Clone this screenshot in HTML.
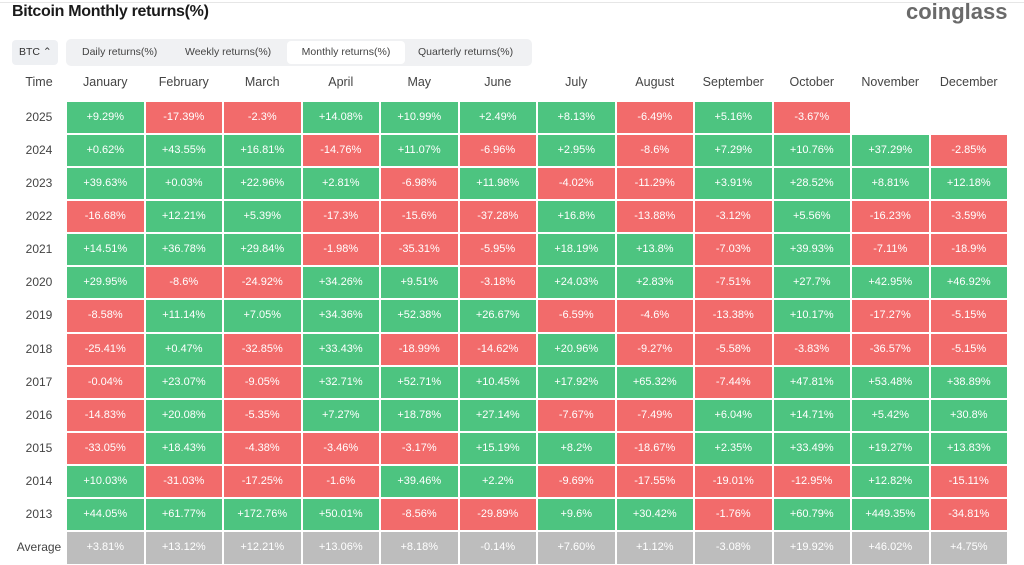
<!DOCTYPE html>
<html><head><meta charset="utf-8"><style>
*{margin:0;padding:0;box-sizing:border-box}
body{width:1024px;height:563px;overflow:hidden;background:#fff;font-family:"Liberation Sans",sans-serif;position:relative}
.topline{position:absolute;left:0;right:0;top:2px;height:1px;background:#e6e6e6}
.title{position:absolute;left:12px;top:3px;font-size:16px;font-weight:bold;color:#1a1a1a;letter-spacing:-0.3px}
.logo{position:absolute;left:906px;top:-1px;font-size:22px;font-weight:bold;color:#6a6a6a;letter-spacing:0px}
.btc{position:absolute;left:12px;top:40px;width:46px;height:25px;background:#eef0f3;border-radius:4px;font-size:10.5px;color:#333;line-height:25px;padding-left:7px}
.tabs{position:absolute;left:66px;top:39px;width:466px;height:27px;background:#f0f1f3;border-radius:5px}
.tab{position:absolute;top:0;height:27px;line-height:27px;font-size:10.5px;color:#444}
.act{background:#fff;border-radius:4px;top:2px;height:23px;line-height:23px;text-align:center}
.hdr{position:absolute;top:75px;height:16px;font-size:12.5px;color:#444;text-align:center;width:78.5px}
.row{position:absolute;left:0;height:33.15px;width:1024px}
.lab{position:absolute;left:6px;width:66px;text-align:center;line-height:33px;font-size:12px;color:#444}
.c{position:absolute;top:0;width:78.5px;height:33.15px;border:1px solid #fff;color:#fff;font-size:11px;text-align:center;line-height:31px;font-style:normal}
.g{background:#4dc480}.r{background:#f26b6b}.a{background:#bdbdbd}
.c:nth-of-type(1){left:66px}.c:nth-of-type(2){left:144.5px}.c:nth-of-type(3){left:223px}.c:nth-of-type(4){left:301.5px}
.c:nth-of-type(5){left:380px}.c:nth-of-type(6){left:458.5px}.c:nth-of-type(7){left:537px}.c:nth-of-type(8){left:615.5px}
.c:nth-of-type(9){left:694px}.c:nth-of-type(10){left:772.5px}.c:nth-of-type(11){left:851px}.c:nth-of-type(12){left:929.5px}
</style></head><body>
<div class="topline"></div>
<div class="title">Bitcoin Monthly returns(%)</div>
<div class="logo">coinglass</div>
<div class="btc">BTC ⌃</div>
<div class="tabs">
<div class="tab" style="left:16px">Daily returns(%)</div>
<div class="tab" style="left:119px">Weekly returns(%)</div>
<div class="tab act" style="left:221px;width:118px">Monthly returns(%)</div>
<div class="tab" style="left:352px">Quarterly returns(%)</div>
</div>
<div class="hdr" style="left:0px;width:78px">Time</div>
<div class="hdr" style="left:66px">January</div>
<div class="hdr" style="left:144.5px">February</div>
<div class="hdr" style="left:223px">March</div>
<div class="hdr" style="left:301.5px">April</div>
<div class="hdr" style="left:380px">May</div>
<div class="hdr" style="left:458.5px">June</div>
<div class="hdr" style="left:537px">July</div>
<div class="hdr" style="left:615.5px">August</div>
<div class="hdr" style="left:694px">September</div>
<div class="hdr" style="left:772.5px">October</div>
<div class="hdr" style="left:851px">November</div>
<div class="hdr" style="left:929.5px">December</div>

<div class="row" style="top:100.5px"><div class="lab">2025</div><i class="c g">+9.29%</i><i class="c r">-17.39%</i><i class="c r">-2.3%</i><i class="c g">+14.08%</i><i class="c g">+10.99%</i><i class="c g">+2.49%</i><i class="c g">+8.13%</i><i class="c r">-6.49%</i><i class="c g">+5.16%</i><i class="c r">-3.67%</i></div>
<div class="row" style="top:133.65px"><div class="lab">2024</div><i class="c g">+0.62%</i><i class="c g">+43.55%</i><i class="c g">+16.81%</i><i class="c r">-14.76%</i><i class="c g">+11.07%</i><i class="c r">-6.96%</i><i class="c g">+2.95%</i><i class="c r">-8.6%</i><i class="c g">+7.29%</i><i class="c g">+10.76%</i><i class="c g">+37.29%</i><i class="c r">-2.85%</i></div>
<div class="row" style="top:166.8px"><div class="lab">2023</div><i class="c g">+39.63%</i><i class="c g">+0.03%</i><i class="c g">+22.96%</i><i class="c g">+2.81%</i><i class="c r">-6.98%</i><i class="c g">+11.98%</i><i class="c r">-4.02%</i><i class="c r">-11.29%</i><i class="c g">+3.91%</i><i class="c g">+28.52%</i><i class="c g">+8.81%</i><i class="c g">+12.18%</i></div>
<div class="row" style="top:199.95px"><div class="lab">2022</div><i class="c r">-16.68%</i><i class="c g">+12.21%</i><i class="c g">+5.39%</i><i class="c r">-17.3%</i><i class="c r">-15.6%</i><i class="c r">-37.28%</i><i class="c g">+16.8%</i><i class="c r">-13.88%</i><i class="c r">-3.12%</i><i class="c g">+5.56%</i><i class="c r">-16.23%</i><i class="c r">-3.59%</i></div>
<div class="row" style="top:233.1px"><div class="lab">2021</div><i class="c g">+14.51%</i><i class="c g">+36.78%</i><i class="c g">+29.84%</i><i class="c r">-1.98%</i><i class="c r">-35.31%</i><i class="c r">-5.95%</i><i class="c g">+18.19%</i><i class="c g">+13.8%</i><i class="c r">-7.03%</i><i class="c g">+39.93%</i><i class="c r">-7.11%</i><i class="c r">-18.9%</i></div>
<div class="row" style="top:266.25px"><div class="lab">2020</div><i class="c g">+29.95%</i><i class="c r">-8.6%</i><i class="c r">-24.92%</i><i class="c g">+34.26%</i><i class="c g">+9.51%</i><i class="c r">-3.18%</i><i class="c g">+24.03%</i><i class="c g">+2.83%</i><i class="c r">-7.51%</i><i class="c g">+27.7%</i><i class="c g">+42.95%</i><i class="c g">+46.92%</i></div>
<div class="row" style="top:299.4px"><div class="lab">2019</div><i class="c r">-8.58%</i><i class="c g">+11.14%</i><i class="c g">+7.05%</i><i class="c g">+34.36%</i><i class="c g">+52.38%</i><i class="c g">+26.67%</i><i class="c r">-6.59%</i><i class="c r">-4.6%</i><i class="c r">-13.38%</i><i class="c g">+10.17%</i><i class="c r">-17.27%</i><i class="c r">-5.15%</i></div>
<div class="row" style="top:332.55px"><div class="lab">2018</div><i class="c r">-25.41%</i><i class="c g">+0.47%</i><i class="c r">-32.85%</i><i class="c g">+33.43%</i><i class="c r">-18.99%</i><i class="c r">-14.62%</i><i class="c g">+20.96%</i><i class="c r">-9.27%</i><i class="c r">-5.58%</i><i class="c r">-3.83%</i><i class="c r">-36.57%</i><i class="c r">-5.15%</i></div>
<div class="row" style="top:365.7px"><div class="lab">2017</div><i class="c r">-0.04%</i><i class="c g">+23.07%</i><i class="c r">-9.05%</i><i class="c g">+32.71%</i><i class="c g">+52.71%</i><i class="c g">+10.45%</i><i class="c g">+17.92%</i><i class="c g">+65.32%</i><i class="c r">-7.44%</i><i class="c g">+47.81%</i><i class="c g">+53.48%</i><i class="c g">+38.89%</i></div>
<div class="row" style="top:398.85px"><div class="lab">2016</div><i class="c r">-14.83%</i><i class="c g">+20.08%</i><i class="c r">-5.35%</i><i class="c g">+7.27%</i><i class="c g">+18.78%</i><i class="c g">+27.14%</i><i class="c r">-7.67%</i><i class="c r">-7.49%</i><i class="c g">+6.04%</i><i class="c g">+14.71%</i><i class="c g">+5.42%</i><i class="c g">+30.8%</i></div>
<div class="row" style="top:432px"><div class="lab">2015</div><i class="c r">-33.05%</i><i class="c g">+18.43%</i><i class="c r">-4.38%</i><i class="c r">-3.46%</i><i class="c r">-3.17%</i><i class="c g">+15.19%</i><i class="c g">+8.2%</i><i class="c r">-18.67%</i><i class="c g">+2.35%</i><i class="c g">+33.49%</i><i class="c g">+19.27%</i><i class="c g">+13.83%</i></div>
<div class="row" style="top:465.15px"><div class="lab">2014</div><i class="c g">+10.03%</i><i class="c r">-31.03%</i><i class="c r">-17.25%</i><i class="c r">-1.6%</i><i class="c g">+39.46%</i><i class="c g">+2.2%</i><i class="c r">-9.69%</i><i class="c r">-17.55%</i><i class="c r">-19.01%</i><i class="c r">-12.95%</i><i class="c g">+12.82%</i><i class="c r">-15.11%</i></div>
<div class="row" style="top:498.3px"><div class="lab">2013</div><i class="c g">+44.05%</i><i class="c g">+61.77%</i><i class="c g">+172.76%</i><i class="c g">+50.01%</i><i class="c r">-8.56%</i><i class="c r">-29.89%</i><i class="c g">+9.6%</i><i class="c g">+30.42%</i><i class="c r">-1.76%</i><i class="c g">+60.79%</i><i class="c g">+449.35%</i><i class="c r">-34.81%</i></div>
<div class="row" style="top:531.45px"><div class="lab">Average</div><i class="c a">+3.81%</i><i class="c a">+13.12%</i><i class="c a">+12.21%</i><i class="c a">+13.06%</i><i class="c a">+8.18%</i><i class="c a">-0.14%</i><i class="c a">+7.60%</i><i class="c a">+1.12%</i><i class="c a">-3.08%</i><i class="c a">+19.92%</i><i class="c a">+46.02%</i><i class="c a">+4.75%</i></div>
</body></html>
